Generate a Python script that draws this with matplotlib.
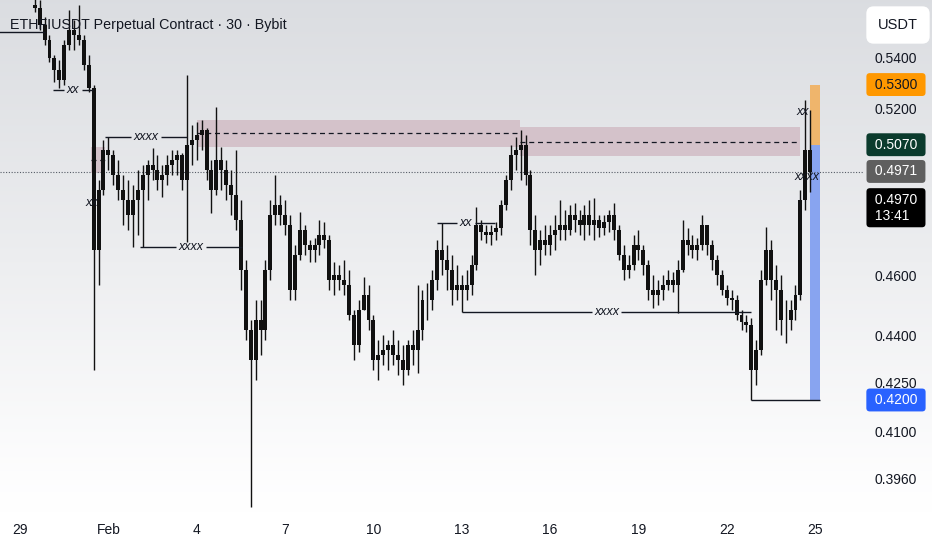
import numpy as np
import pandas as pd
import matplotlib
matplotlib.use('Agg')
import matplotlib.pyplot as plt
import matplotlib.dates as mdates
from matplotlib.ticker import NullLocator

plt.rcParams['font.family'] = ['Liberation Sans', 'DejaVu Sans']

# ETHFIUSDT, resampled to 4h candles
start = '2025-01-29 12:00'
first_open = 0.5620
highs = [0.5704, 0.5641, 0.5571, 0.5497, 0.5417, 0.5397, 0.5477, 0.5600, 0.5559, 0.5620,
         0.5497, 0.5417, 0.5298, 0.4940, 0.5088, 0.5099, 0.5051, 0.5013, 0.4958, 0.4940,
         0.4922, 0.4977, 0.4995, 0.5013, 0.5058, 0.5032, 0.4995, 0.5032, 0.5051, 0.5051,
         0.5040, 0.5338, 0.5145, 0.5156, 0.5164, 0.5134, 0.5013, 0.5213, 0.5062, 0.5013,
         0.4977, 0.5051, 0.4868, 0.4657, 0.4455, 0.4522, 0.4522, 0.4657, 0.4868, 0.4958,
         0.4886, 0.4868, 0.4814, 0.4709, 0.4825, 0.4779, 0.4726, 0.4733, 0.4796, 0.4789,
         0.4744, 0.4650, 0.4640, 0.4657, 0.4623, 0.4488, 0.4522, 0.4599, 0.4572, 0.4472,
         0.4390, 0.4406, 0.4390, 0.4423, 0.4390, 0.4374, 0.4390, 0.4423, 0.4572, 0.4555,
         0.4579, 0.4623, 0.4726, 0.4786, 0.4709, 0.4675, 0.4640, 0.4606, 0.4623, 0.4675,
         0.4843, 0.4796, 0.4779, 0.4779, 0.4789, 0.4868, 0.4958, 0.5070, 0.5099, 0.5126,
         0.5107, 0.4977, 0.4814, 0.4761, 0.4779, 0.4779, 0.4814, 0.4868, 0.4832, 0.4850,
         0.4857, 0.4832, 0.4850, 0.4868, 0.4875, 0.4814, 0.4814, 0.4832, 0.4857, 0.4779,
         0.4709, 0.4675, 0.4744, 0.4761, 0.4709, 0.4657, 0.4606, 0.4589, 0.4606, 0.4623,
         0.4616, 0.4657, 0.4796, 0.4768, 0.4744, 0.4733, 0.4814, 0.4779, 0.4726, 0.4675,
         0.4623, 0.4572, 0.4555, 0.4539, 0.4488, 0.4472, 0.4462, 0.4390, 0.4623, 0.4772,
         0.4726, 0.4640, 0.4606, 0.4522, 0.4522, 0.4572, 0.4904, 0.5240, 0.5202]
lows = [0.5592, 0.5518, 0.5457, 0.5389, 0.5310, 0.5287, 0.5298, 0.5437, 0.5437, 0.5457,
        0.5358, 0.5271, 0.4294, 0.4572, 0.4886, 0.4977, 0.4922, 0.4868, 0.4779, 0.4761,
        0.4702, 0.4744, 0.4702, 0.4868, 0.4940, 0.4904, 0.4879, 0.4922, 0.4958, 0.4958,
        0.4904, 0.4719, 0.4995, 0.5013, 0.5051, 0.4940, 0.4821, 0.4886, 0.4904, 0.4868,
        0.4814, 0.4761, 0.4555, 0.4390, 0.3881, 0.4263, 0.4342, 0.4390, 0.4589, 0.4779,
        0.4779, 0.4744, 0.4522, 0.4522, 0.4657, 0.4675, 0.4650, 0.4650, 0.4675, 0.4699,
        0.4555, 0.4539, 0.4555, 0.4539, 0.4455, 0.4326, 0.4352, 0.4488, 0.4423, 0.4294,
        0.4263, 0.4310, 0.4294, 0.4310, 0.4279, 0.4247, 0.4279, 0.4310, 0.4285, 0.4390,
        0.4455, 0.4488, 0.4555, 0.4606, 0.4555, 0.4505, 0.4522, 0.4482, 0.4522, 0.4539,
        0.4623, 0.4726, 0.4716, 0.4709, 0.4726, 0.4744, 0.4832, 0.4904, 0.4977, 0.4940,
        0.4922, 0.4709, 0.4606, 0.4640, 0.4675, 0.4675, 0.4692, 0.4726, 0.4726, 0.4744,
        0.4754, 0.4744, 0.4726, 0.4744, 0.4726, 0.4737, 0.4744, 0.4754, 0.4726, 0.4657,
        0.4589, 0.4596, 0.4623, 0.4657, 0.4606, 0.4522, 0.4495, 0.4505, 0.4522, 0.4555,
        0.4548, 0.4478, 0.4616, 0.4675, 0.4664, 0.4657, 0.4692, 0.4675, 0.4623, 0.4572,
        0.4539, 0.4505, 0.4488, 0.4455, 0.4423, 0.4416, 0.4200, 0.4247, 0.4342, 0.4572,
        0.4522, 0.4423, 0.4406, 0.4380, 0.4423, 0.4455, 0.4522, 0.4832, 0.4897]
closes = [0.5608, 0.5538, 0.5477, 0.5405, 0.5358, 0.5318, 0.5457, 0.5518, 0.5497, 0.5477,
          0.5377, 0.5287, 0.4692, 0.4904, 0.5051, 0.5032, 0.4958, 0.4904, 0.4868, 0.4814,
          0.4868, 0.4904, 0.4958, 0.4995, 0.4977, 0.4940, 0.4958, 0.4995, 0.5013, 0.5032,
          0.4940, 0.5070, 0.5088, 0.5107, 0.5126, 0.4977, 0.4904, 0.5013, 0.4977, 0.4922,
          0.4886, 0.4796, 0.4623, 0.4423, 0.4326, 0.4455, 0.4423, 0.4623, 0.4814, 0.4850,
          0.4814, 0.4779, 0.4555, 0.4675, 0.4761, 0.4709, 0.4692, 0.4709, 0.4744, 0.4726,
          0.4589, 0.4606, 0.4589, 0.4572, 0.4472, 0.4374, 0.4488, 0.4539, 0.4455, 0.4326,
          0.4342, 0.4358, 0.4374, 0.4342, 0.4326, 0.4294, 0.4374, 0.4358, 0.4423, 0.4522,
          0.4522, 0.4589, 0.4692, 0.4657, 0.4623, 0.4555, 0.4572, 0.4555, 0.4572, 0.4640,
          0.4779, 0.4754, 0.4744, 0.4754, 0.4768, 0.4850, 0.4940, 0.5032, 0.5051, 0.5070,
          0.4958, 0.4761, 0.4692, 0.4726, 0.4709, 0.4744, 0.4761, 0.4779, 0.4761, 0.4814,
          0.4796, 0.4779, 0.4814, 0.4779, 0.4796, 0.4768, 0.4789, 0.4814, 0.4761, 0.4675,
          0.4623, 0.4640, 0.4709, 0.4692, 0.4640, 0.4555, 0.4539, 0.4555, 0.4572, 0.4589,
          0.4572, 0.4623, 0.4726, 0.4709, 0.4692, 0.4709, 0.4779, 0.4709, 0.4657, 0.4606,
          0.4555, 0.4529, 0.4522, 0.4472, 0.4449, 0.4439, 0.4294, 0.4358, 0.4589, 0.4692,
          0.4589, 0.4555, 0.4455, 0.4455, 0.4488, 0.4539, 0.4868, 0.5051, 0.4970]

# structure levels: (price, from, to, label)
levels = [
    (0.5509, '2025-01-28 06:00', '2025-01-29 20:00', ''),
    (0.5279, '2025-01-30 03:00', '2025-01-31 11:30', 'xx'),
    (0.5099, '2025-01-31 21:00', '2025-02-03 16:00', 'xxxx'),
    (0.4702, '2025-02-02 02:00', '2025-02-05 13:00', 'xxxx'),
    (0.4786, '2025-02-12 04:00', '2025-02-14 03:00', 'xx'),
    (0.4482, '2025-02-13 00:00', '2025-02-22 20:00', 'xxxx'),
    (0.4200, '2025-02-22 20:00', '2025-02-25 04:00', ''),
]
loose_tags = [('2025-01-31 10:40', 0.4857, 'xx'),
              ('2025-02-24 14:00', 0.5194, 'xx'),
              ('2025-02-24 17:20', 0.4951, 'xxxx')]
# supply zones: (from, to, low, high, mid)
zones = [
    ('2025-01-31 09:50', '2025-01-31 21:20', 0.4966, 0.5062, 0.5013),
    ('2025-02-04 00:15', '2025-02-14 23:30', 0.5062, 0.5164, 0.5115),
    ('2025-02-14 23:30', '2025-02-24 11:45', 0.5028, 0.5137, 0.5081),
]
# long position tool
pos_t0, pos_t1 = '2025-02-24 20:00', '2025-02-25 04:00'
target, entry, stop = 0.5300, 0.5070, 0.4200
last_price, prev_close = 0.4970, 0.4971

axis_ticks = [0.5400, 0.5200, 0.4600, 0.4400, 0.4250, 0.4100, 0.3960]
day_ticks = ['2025-01-29', '2025-02-01', '2025-02-04', '2025-02-07', '2025-02-10',
             '2025-02-13', '2025-02-16', '2025-02-19', '2025-02-22', '2025-02-25']
day_labels = ['29', 'Feb', '4', '7', '10', '13', '16', '19', '22', '25']

INK = '#131722'
d2n = lambda s: mdates.date2num(pd.Timestamp(s))

fig = plt.figure(figsize=(9.32, 5.5), dpi=100)

# background gradient like the TradingView theme
bg = fig.add_axes([0, 0, 1, 1], zorder=-10)
rows = np.arange(550)
stops = [0, 250, 470, 512]
grad = np.stack([np.interp(rows, stops, [0.858, 0.926, 0.992, 1.0]),
                 np.interp(rows, stops, [0.866, 0.930, 0.992, 1.0]),
                 np.interp(rows, stops, [0.882, 0.938, 0.994, 1.0])], axis=-1)
bg.imshow(grad[:, None, :], aspect='auto', extent=[0, 1, 0, 1])
bg.axis('off')

ax = fig.add_axes([0, 38 / 550, 864 / 932, 512 / 550])
ax.patch.set_alpha(0)
for s in ax.spines.values():
    s.set_visible(False)
ax.set_yscale('log')
ax.set_ylim(0.3867, 0.5641)
ax.set_xlim(d2n('2025-01-28 07:40'), d2n('2025-02-26 15:50'))
ax.yaxis.set_major_locator(NullLocator())
ax.yaxis.set_minor_locator(NullLocator())
ax.set_xticks([d2n(d) for d in day_ticks], day_labels)
ax.tick_params(axis='x', length=0, pad=8, labelsize=10, labelcolor=INK)

# candles
t = mdates.date2num(pd.date_range(start, periods=len(closes), freq='4h'))
c = np.array(closes)
o = np.r_[first_open, c[:-1]]
h = np.maximum.reduce([np.array(highs), o, c])
l = np.minimum.reduce([np.array(lows), o, c])
ax.vlines(t, l, h, color='#111111', lw=1.0, zorder=3)
ax.bar(t, np.abs(c - o), bottom=np.minimum(o, c), width=0.135, color='#111111',
       lw=0, zorder=3)

for z0, z1, lo, hi, mid in zones:
    ax.fill_between([d2n(z0), d2n(z1)], lo, hi, color='#d4c2ca', lw=0, zorder=1)
    ax.hlines(mid, d2n(z0), d2n(z1), color=INK, lw=0.9, ls=(0, (4, 3)), zorder=2)

for price, a, b, lab in levels:
    a, b = d2n(a), d2n(b)
    if lab:
        mid = (a + b) / 2
        g = 0.1 + 0.1 * len(lab)
        ax.hlines([price, price], [a, mid + g], [mid - g, b], color=INK, lw=1, zorder=4)
        ax.text(mid, price, lab, ha='center', va='center', fontsize=9,
                style='italic', color=INK, zorder=5)
    else:
        ax.hlines(price, a, b, color=INK, lw=1, zorder=4)

for when, price, lab in loose_tags:
    ax.text(d2n(when), price, lab, ha='center', va='center', fontsize=9,
            style='italic', color=INK, zorder=5)

p0, p1 = d2n(pos_t0), d2n(pos_t1)
ax.fill_between([p0, p1], entry, target, color='#efb56c', lw=0, zorder=2)
ax.fill_between([p0, p1], stop, entry, color='#88a4f0', lw=0, zorder=2)

ax.axhline(last_price, color='#555b66', lw=0.8, ls=(0, (1, 1.5)), zorder=2)

# right price scale
lx = 1.037
ytr = ax.get_yaxis_transform()
for p in axis_ticks:
    ax.text(lx, p, '%.4f' % p, transform=ytr, ha='center', va='center',
            fontsize=10, color=INK, zorder=6)

def badge(p, txt, fc, color='white', dy=0):
    ax.annotate(txt, xy=(lx, p), xycoords=ytr, xytext=(0, dy),
                textcoords='offset pixels', ha='center', va='center',
                multialignment='left', fontsize=10, color=color, zorder=8,
                annotation_clip=False,
                bbox=dict(boxstyle='round,pad=0.32,rounding_size=0.25', fc=fc, ec='none'))

badge(target, ' %.4f ' % target, '#ff9800', INK)
badge(entry, ' %.4f ' % entry, '#0b3b2d')
badge(prev_close, ' %.4f ' % prev_close, '#5f5f5f')
badge(last_price, ' %.4f \n 13:41' % last_price, '#000000', dy=-36)
badge(stop, ' %.4f ' % stop, '#2962ff')

fig.text(898 / 932, 1 - 25 / 550, 'USDT', ha='center', va='center', fontsize=10.5,
         color=INK,
         bbox=dict(boxstyle='round,pad=0.8,rounding_size=0.5', fc='white', ec='none'))
fig.text(10 / 932, 1 - 25 / 550, 'ETHFIUSDT Perpetual Contract · 30 · Bybit',
         ha='left', va='center', fontsize=10.3, color=INK, zorder=10)

fig.savefig('out.png', dpi=100)
